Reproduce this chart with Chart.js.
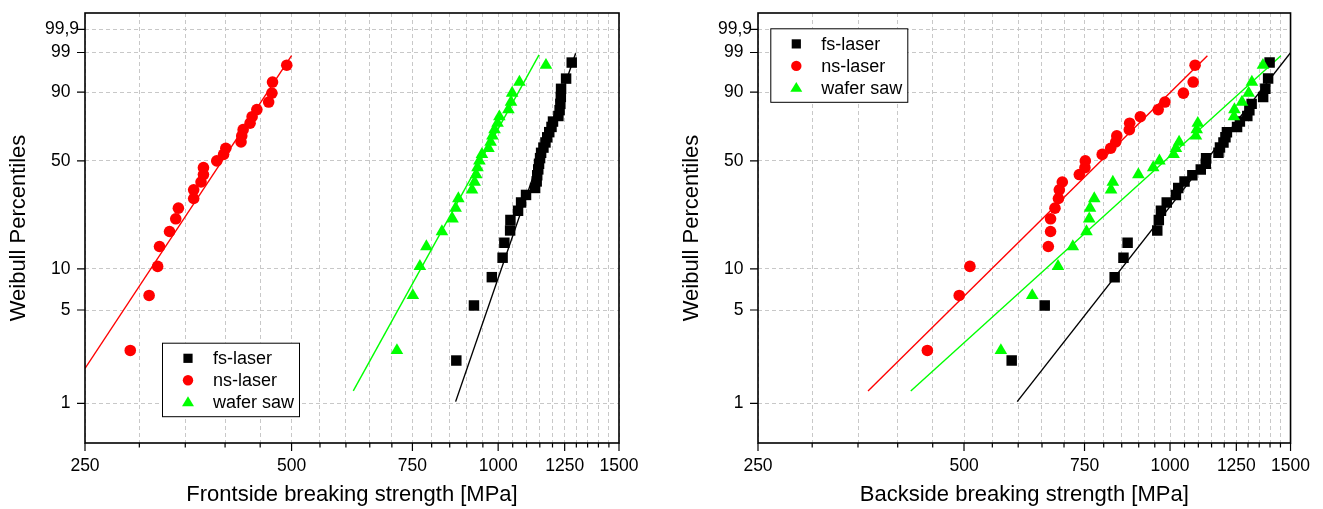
<!DOCTYPE html>
<html>
<head>
<meta charset="utf-8">
<script src="https://cdn.jsdelivr.net/npm/chart.js@4/dist/chart.umd.min.js"></script>
<style>
  html, body { margin: 0; padding: 0; background: #fff; overflow: hidden; }
  canvas { position: absolute; top: 0; }
</style>
</head>
<body>
<canvas id="front" width="660" height="509" style="left:0"></canvas>
<canvas id="back" width="650" height="509" style="left:673px"></canvas>
<script>
// series order: fs-laser, ns-laser, wafer saw
const seriesNames = ['fs-laser', 'ns-laser', 'wafer saw'];

// failure probability [%] of each ranked specimen (25 resp. 30 samples)
const pct25 = [2.5, 6.4, 10.4, 14.4, 18.3, 22.3, 26.2, 30.2, 34.2, 38.1, 42.1, 46.0, 50.0,
  54.0, 57.9, 61.9, 65.8, 69.8, 73.8, 77.7, 81.7, 85.6, 89.6, 93.6, 97.5];
const pct30 = [2.1, 5.4, 8.7, 12.0, 15.3, 18.6, 21.9, 25.2, 28.5, 31.8, 35.1, 38.4, 41.7, 45.0, 48.3,
  51.7, 55.0, 58.3, 61.6, 64.9, 68.2, 71.5, 74.8, 78.1, 81.4, 84.7, 88.0, 91.3, 94.6, 97.9];

// breaking strength [MPa], frontside
const frontFs = [869, 922, 979, 1015, 1021, 1041, 1042, 1069, 1080, 1098, 1132, 1138, 1140, 1144, 1147,
  1151, 1155, 1164, 1172, 1179, 1187, 1196, 1202, 1224, 1229, 1232, 1234, 1235, 1256, 1280];
const frontNs = [291, 310, 319, 321, 332, 339, 342, 360, 360, 369, 372, 372, 389, 398, 401,
  422, 423, 425, 435, 438, 445, 463, 468, 469, 492];
const frontSaw = [712, 751, 769, 786, 828, 858, 867, 875, 916, 924, 929, 933, 939, 947, 968,
  975, 981, 988, 998, 1004, 1035, 1044, 1048, 1074, 1174];

// breaking strength [MPa], backside
const backFs = [587, 656, 830, 855, 867, 958, 963, 970, 989, 1020, 1028, 1050, 1078, 1109, 1128,
  1129, 1177, 1183, 1197, 1205, 1211, 1253, 1265, 1297, 1306, 1316, 1368, 1378, 1391, 1398];
const backNs = [442, 492, 510, 664, 669, 669, 679, 687, 689, 696, 737, 751, 752, 796, 819,
  833, 836, 872, 873, 905, 961, 983, 1046, 1081, 1088];
const backSaw = [566, 629, 686, 721, 755, 762, 764, 775, 820, 825, 899, 945, 965, 1012, 1020,
  1031, 1091, 1094, 1098, 1240, 1242, 1274, 1303, 1317, 1367];

// Weibull fit lines: end points (MPa, %)
const frontFitMPa = [[867, 1297], [250, 500], [615, 1147]];
const frontFitPct = [[1.03, 98.94], [1.83, 98.72], [1.24, 98.79]];
const backFitMPa = [[598, 1500], [362, 1134], [418, 1452]];
const backFitPct = [[1.03, 98.98], [1.24, 98.72], [1.24, 98.72]];

// axes
const yTickPct = [1, 5, 10, 50, 90, 99, 99.9];
const yTickLabels = ['1', '5', '10', '50', '90', '99', '99,9'];
const xMajor = [250, 500, 750, 1000, 1250, 1500];
const xGrid = [];
for (let v = 250; v <= 1500; v += 50) xGrid.push(v);

const FONT = '"Liberation Sans", Arial, sans-serif';
const colors = ['#000000', '#ff0000', '#00ff00'];
const styles = ['rect', 'circle', 'triangle'];
const radii = [7.4, 5.8, 7.3];
const gridColor = '#c8c8c8';

const wb = p => Math.log(-Math.log(1 - p / 100));

function drawMarker(ctx, s, x, y, r) {
  ctx.fillStyle = colors[s];
  ctx.beginPath();
  if (s === 0) {
    ctx.rect(x - r, y - r, 2 * r, 2 * r);
  } else if (s === 1) {
    ctx.arc(x, y, r, 0, Math.PI * 2);
  } else {
    ctx.moveTo(x, y - r * 1.15);
    ctx.lineTo(x + r * 1.15, y + r * 0.75);
    ctx.lineTo(x - r * 1.15, y + r * 0.75);
    ctx.closePath();
  }
  ctx.fill();
}

const framePlugin = {
  id: 'frame',
  afterDraw(chart, args, opts) {
    const ctx = chart.ctx;
    const a = chart.chartArea;
    const x = chart.scales.x, y = chart.scales.y;
    ctx.save();
    ctx.strokeStyle = '#000';
    ctx.lineWidth = 1.6;
    ctx.strokeRect(a.left, a.top, a.right - a.left, a.bottom - a.top);

    ctx.lineWidth = 1.2;
    ctx.beginPath();
    xGrid.forEach(v => {
      const px = x.getPixelForValue(v);
      ctx.moveTo(px, a.bottom);
      ctx.lineTo(px, a.bottom + (xMajor.includes(v) ? 8 : 4.5));
    });
    yTickPct.forEach(p => {
      const py = y.getPixelForValue(wb(p));
      ctx.moveTo(a.left, py);
      ctx.lineTo(a.left - 8, py);
    });
    ctx.stroke();

    ctx.font = '17.5px ' + FONT;
    ctx.fillStyle = '#000';
    ctx.textAlign = 'right';
    ctx.textBaseline = 'middle';
    yTickPct.forEach((p, i) => {
      const py = y.getPixelForValue(wb(p));
      ctx.fillText(yTickLabels[i], a.left - (i === 6 ? 6 : 14.5), py);
    });

    // legend box
    const bx = a.left + opts.dx, by = a.top + opts.dy;
    ctx.fillStyle = '#fff';
    ctx.fillRect(bx, by, 137, 73.5);
    ctx.lineWidth = 1;
    ctx.strokeStyle = '#000';
    ctx.strokeRect(bx + 0.5, by + 0.5, 137, 73.5);
    ctx.font = '18px ' + FONT;
    ctx.textAlign = 'left';
    seriesNames.forEach((name, s) => {
      const ry = by + 15.6 + s * 22;
      drawMarker(ctx, s, bx + 26, ry, s === 0 ? 4.6 : 5.2);
      ctx.fillStyle = '#000';
      ctx.fillText(name, bx + 51, ry + 1);
    });
    ctx.restore();
  }
};

function buildChart(id, xTitle, mpa, pct, fitMPa, fitPct, legendPos, rightPad) {
  const datasets = [];
  for (let s = 0; s < 3; s++) {
    datasets.push({
      label: seriesNames[s],
      data: mpa[s].map((v, i) => ({ x: v, y: wb(pct[s][i]) })),
      showLine: false,
      pointStyle: styles[s],
      pointRadius: radii[s],
      pointBackgroundColor: colors[s],
      pointBorderWidth: 0,
      order: 3 - s
    });
    datasets.push({
      label: seriesNames[s] + ' fit',
      data: fitMPa[s].map((v, i) => ({ x: v, y: wb(fitPct[s][i]) })),
      showLine: true,
      pointRadius: 0,
      borderColor: colors[s],
      borderWidth: 1.4,
      order: 10
    });
  }

  new Chart(document.getElementById(id), {
    type: 'scatter',
    data: { datasets: datasets },
    options: {
      responsive: false,
      animation: false,
      events: [],
      layout: { padding: { top: 13, right: rightPad, bottom: 0, left: 0 } },
      plugins: {
        legend: { display: false },
        tooltip: { enabled: false },
        frame: legendPos
      },
      scales: {
        x: {
          type: 'logarithmic',
          min: 250,
          max: 1500,
          afterBuildTicks: sc => { sc.ticks = xGrid.map(v => ({ value: v })); },
          afterFit: sc => { sc.height = 66; },
          ticks: {
            autoSkip: false,
            maxRotation: 0,
            padding: 13,
            color: '#000',
            font: { family: FONT, size: 17.5 },
            callback: v => xMajor.includes(v) ? String(v) : ''
          },
          grid: { color: gridColor, lineWidth: 1, drawTicks: false },
          border: { display: false, dash: [4, 3] },
          title: {
            display: true,
            text: xTitle,
            color: '#000',
            font: { family: FONT, size: 22 },
            padding: { top: 0, bottom: 1 }
          }
        },
        y: {
          min: -5.293,
          max: 2.217,
          afterBuildTicks: sc => { sc.ticks = yTickPct.map(p => ({ value: wb(p) })); },
          afterFit: sc => { sc.width = 85; },
          ticks: { display: false },
          grid: { color: gridColor, lineWidth: 1, drawTicks: false },
          border: { display: false, dash: [4, 3] },
          title: {
            display: true,
            text: 'Weibull Percentiles',
            color: '#000',
            font: { family: FONT, size: 22 },
            padding: { top: 5.3, bottom: 0 }
          }
        }
      }
    },
    plugins: [framePlugin]
  });
}

buildChart('front', 'Frontside breaking strength [MPa]',
  [frontFs, frontNs, frontSaw], [pct30, pct25, pct25], frontFitMPa, frontFitPct,
  { dx: 77, dy: 329.7 }, 41);
buildChart('back', 'Backside breaking strength [MPa]',
  [backFs, backNs, backSaw], [pct30, pct25, pct25], backFitMPa, backFitPct,
  { dx: 12.3, dy: 15.3 }, 31);
</script>
</body>
</html>
